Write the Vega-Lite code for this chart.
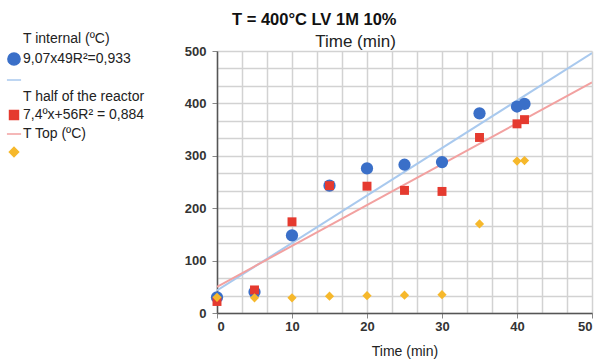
{
  "$schema": "https://vega.github.io/schema/vega-lite/v6.json",
  "width": 375,
  "height": 262,
  "autosize": {"type": "none"},
  "padding": {"left": 217, "top": 51, "right": 9, "bottom": 46},
  "title": {"text": "T = 400°C LV 1M 10%", "anchor": "start", "frame": "group", "dx": 15, "fontSize": 16.5, "font": "Liberation Sans", "fontWeight": "bold", "color": "#111", "offset": 4},
  "config": {
    "view": {"stroke": null},
    "font": "Liberation Sans",
    "axis": {"labelFont": "Liberation Sans", "labelFontWeight": "bold", "labelColor": "#333", "labelFontSize": 13, "labelOverlap": false, "domainColor": "#555", "domainWidth": 1.5, "tickColor": "#888", "tickSize": 5, "titleFont": "Liberation Sans", "titleFontWeight": "normal", "titleColor": "#222"}
  },
  "resolve": {"axis": {"x": "independent", "y": "independent"}},
  "layer": [
    {
      "data": {"values": [
        {"series": "b", "t": 0, "v": 43}, {"series": "b", "t": 50, "v": 496},
        {"series": "d", "t": 0, "v": 50}, {"series": "d", "t": 50, "v": 440}
      ]},
      "mark": {"type": "line", "strokeWidth": 2, "clip": true},
      "encoding": {
        "x": {"field": "t", "type": "quantitative", "scale": {"domain": [0, 50]},
          "axis": {"orient": "top", "grid": false, "labels": false, "ticks": false, "domain": false, "title": "Time (min)", "titleX": 138, "titleY": -5, "titleBaseline": "alphabetic", "titleFontSize": 17}},
        "y": {"field": "v", "type": "quantitative", "scale": {"domain": [0, 500]}, "axis": null},
        "color": {"field": "series", "type": "nominal", "scale": {"domain": ["h1", "a", "b", "h2", "c", "d", "e"], "range": ["#ffffff", "#3a6fc8", "#a9c9ee", "#ffffff", "#e53a2f", "#f2a1a0", "#f6b82b"]}}
      }
    },
    {
      "data": {"values": [
        {"series": "a", "t": 0, "v": 30}, {"series": "a", "t": 5, "v": 40}, {"series": "a", "t": 10, "v": 148}, {"series": "a", "t": 15, "v": 243}, {"series": "a", "t": 20, "v": 276}, {"series": "a", "t": 25, "v": 283}, {"series": "a", "t": 30, "v": 288}, {"series": "a", "t": 35, "v": 381}, {"series": "a", "t": 40, "v": 394}, {"series": "a", "t": 41, "v": 399},
        {"series": "c", "t": 0, "v": 22}, {"series": "c", "t": 5, "v": 44}, {"series": "c", "t": 10, "v": 174}, {"series": "c", "t": 15, "v": 243}, {"series": "c", "t": 20, "v": 242}, {"series": "c", "t": 25, "v": 234}, {"series": "c", "t": 30, "v": 232}, {"series": "c", "t": 35, "v": 335}, {"series": "c", "t": 40, "v": 361}, {"series": "c", "t": 41, "v": 369},
        {"series": "e", "t": 0, "v": 30}, {"series": "e", "t": 5, "v": 29}, {"series": "e", "t": 10, "v": 29}, {"series": "e", "t": 15, "v": 32}, {"series": "e", "t": 20, "v": 33}, {"series": "e", "t": 25, "v": 34}, {"series": "e", "t": 30, "v": 35}, {"series": "e", "t": 35, "v": 170}, {"series": "e", "t": 40, "v": 290}, {"series": "e", "t": 41, "v": 291}
      ]},
      "mark": {"type": "point", "filled": true, "opacity": 1},
      "encoding": {
        "x": {"field": "t", "type": "quantitative", "scale": {"domain": [0, 50]},
          "axis": {"orient": "bottom", "values": [0, 3.333333, 6.666667, 10, 13.333333, 16.666667, 20, 23.333333, 26.666667, 30, 33.333333, 36.666667, 40, 43.333333, 46.666667, 50], "grid": true, "gridColor": "#d2d2d2", "gridWidth": 1.5, "labelOverlap": false, "labelExpr": "abs(datum.value - round(datum.value/10)*10) < 0.01 ? format(datum.value, 'd') : ''", "tickOpacity": {"condition": {"test": "abs(datum.value - round(datum.value/10)*10) < 0.01", "value": 1}, "value": 0}, "title": "Time (min)", "titleFontSize": 14, "titlePadding": 11}},
        "y": {"field": "v", "type": "quantitative", "scale": {"domain": [0, 500]},
          "axis": {"orient": "left", "values": [0, 33.33333, 66.66667, 100, 133.3333, 166.6667, 200, 233.3333, 266.6667, 300, 333.3333, 366.6667, 400, 433.3333, 466.6667, 500], "grid": true, "gridColor": "#d2d2d2", "gridWidth": 1.5, "labelOverlap": false, "labelExpr": "abs(datum.value - round(datum.value/100)*100) < 0.01 ? format(datum.value, 'd') : ''", "tickOpacity": {"condition": {"test": "abs(datum.value - round(datum.value/100)*100) < 0.01", "value": 1}, "value": 0}, "title": null, "labelPadding": 6}},
        "color": {"field": "series", "type": "nominal", "scale": {"domain": ["h1", "a", "b", "h2", "c", "d", "e"], "range": ["#ffffff", "#3a6fc8", "#a9c9ee", "#ffffff", "#e53a2f", "#f2a1a0", "#f6b82b"]},
          "legend": {"title": null, "orient": "none", "legendX": -211, "legendY": -19, "padding": 0, "rowPadding": 3, "labelFontSize": 14, "labelFont": "Liberation Sans", "labelColor": "#222", "labelLimit": 300, "labelOffset": 1, "labelExpr": "datum.value==='h1' ? 'T internal (ºC)' : datum.value==='a' ? '9,07x49R²=0,933' : datum.value==='h2' ? 'T half of the reactor' : datum.value==='c' ? '7,4ºx+56R² = 0,884' : datum.value==='d' ? 'T Top (ºC)' : ''"}},
        "shape": {"field": "series", "type": "nominal", "scale": {"domain": ["h1", "a", "b", "h2", "c", "d", "e"], "range": ["circle", "circle", "stroke", "circle", "square", "stroke", "diamond"]},
          "legend": {"title": null, "orient": "none", "legendX": -211, "legendY": -19, "padding": 0, "rowPadding": 3, "labelFontSize": 14, "labelFont": "Liberation Sans", "labelColor": "#222", "labelLimit": 300, "labelOffset": 1, "labelExpr": "datum.value==='h1' ? 'T internal (ºC)' : datum.value==='a' ? '9,07x49R²=0,933' : datum.value==='h2' ? 'T half of the reactor' : datum.value==='c' ? '7,4ºx+56R² = 0,884' : datum.value==='d' ? 'T Top (ºC)' : ''"}},
        "size": {"field": "series", "type": "nominal", "scale": {"type": "ordinal", "domain": ["h1", "a", "b", "h2", "c", "d", "e"], "range": [1, 150, 200, 1, 80, 200, 85]},
          "legend": {"title": null, "orient": "none", "legendX": -211, "legendY": -19, "padding": 0, "rowPadding": 3, "labelFontSize": 14, "labelFont": "Liberation Sans", "labelColor": "#222", "labelLimit": 300, "labelOffset": 1, "labelExpr": "datum.value==='h1' ? 'T internal (ºC)' : datum.value==='a' ? '9,07x49R²=0,933' : datum.value==='h2' ? 'T half of the reactor' : datum.value==='c' ? '7,4ºx+56R² = 0,884' : datum.value==='d' ? 'T Top (ºC)' : ''"}}
      }
    }
  ]
}
